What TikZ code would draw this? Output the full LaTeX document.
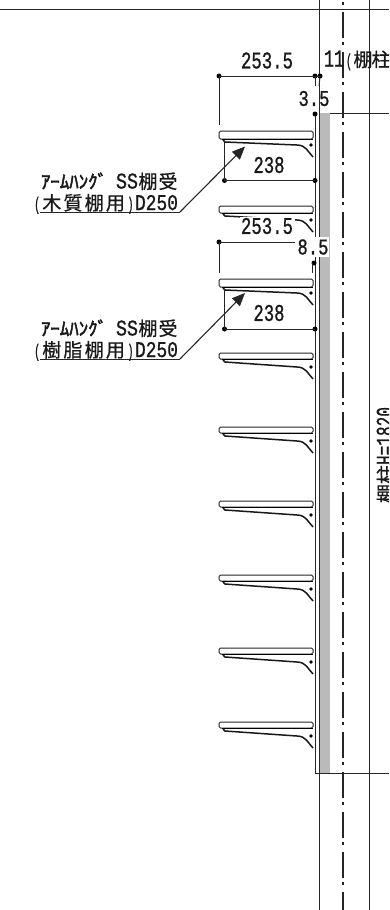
\documentclass[tikz,border=0pt]{standalone}
\usepackage{graphicx}
\usepackage{fontspec}
\setmainfont[FakeBold=0.6]{Noto Sans CJK JP}
\newfontfamily\monof[FakeBold=1.0]{Liberation Mono}
\newfontfamily\kanaf[FakeBold=2.5]{Noto Sans CJK JP}
\usetikzlibrary{arrows.meta}
\tikzset{
 x=1pt,y=-1pt,
 ln/.style={line width=1pt,black!85},
 thick ln/.style={line width=1.5pt,black!90},
 axis/.style={line width=1.1pt,black!85,dash pattern=on 26pt off 4pt on 3pt off 7pt},
 dot/.style={circle,fill=black,inner sep=0pt,minimum size=5pt},
 txt/.style={inner sep=0pt,outer sep=0pt,text=black!90},
 lead/.style={line width=1.1pt,black!85,-{Triangle[length=13pt,width=11pt]}},
 gray band/.style={fill=black!27,draw=none},
}
\newcommand{\numb}[3]{\resizebox{#1pt}{#2pt}{\monof #3}}
\newcommand{\kj}[1]{\makebox[21.2pt]{\fontsize{19}{19}\selectfont #1}}
\newcommand{\lineone}{\hbox{\resizebox{66pt}{16pt}{\kanaf ｱｰﾑﾊﾝｸﾞ}\hspace{9pt}\resizebox{22pt}{15pt}{\monof SS}\hspace{0pt}\makebox[20pt]{\fontsize{19}{19}\selectfont 棚}\makebox[20pt]{\fontsize{19}{19}\selectfont 受}}}
\newcommand{\linetwo}[2]{\hbox{\makebox[8pt]{\resizebox*{6pt}{17pt}{\monof (}}\kj{#1}\kj{#2}\kj{棚}\kj{用}\makebox[9pt]{\resizebox*{6pt}{17pt}{\monof )}}\resizebox{43pt}{15pt}{\monof D250}}}
% shelf: #1 top y, #2 shelf height
\newcommand{\shelfbr}[2]{%
 \draw[ln,rounded corners=1.5pt] (313,#1) -- (219,#1) -- (219,#1+#2) -- (313,#1+#2) -- cycle;
 \draw[line width=1.6pt,black] (222,#1+#2+.5) -- (313,#1+#2+.5);
 \draw[thick ln] (223,#1+#2+1) -- (225,#1+#2+3) -- (297,#1+14) .. controls (306,#1+14) and (308,#1+21) .. (313,#1+26);
 \fill[black] (311,#1+14) circle (1.8pt);
}
\begin{document}
\begin{tikzpicture}
\useasboundingbox (0,0) rectangle (389,910);
\clip (0,0) rectangle (389,910);
\fill[white] (0,0) rectangle (389,910);
% wall
\fill[gray band] (320,113) rectangle (330,773);
\coordinate (tl) at (0,9); \coordinate (tr) at (389,9);
\draw[ln] (tl) -- (tr);
\draw[ln] (319,0) -- (319,910);
\draw[ln] (369,0) -- (369,910);
\draw[axis] (343,-28) -- (343,910);
\draw[ln] (315,113) -- (315,773) -- (389,773);
\draw[ln] (330,113) -- (389,113);
% shelves
\shelfbr{131}{8}
\shelfbr{206}{7}
\shelfbr{279}{8}
\shelfbr{353}{6}
\shelfbr{427}{6}
\shelfbr{501}{6}
\shelfbr{575}{6}
\shelfbr{648}{6}
\shelfbr{722}{6}
% top dimension
\node[dot] (a1) at (219,76) {};
\node[dot] (a2) at (315,76) {};
\node[dot] (a3) at (320,76) {};
\coordinate (a1b) at (219,125);
\coordinate (a2b) at (315,86);
\coordinate (a3b) at (319,86);
\draw[ln] (a1.center) -- (a3.center);
\draw[ln] (a1.center) -- (a1b);
\draw[ln] (a2.center) -- (a2b);
\draw[ln] (a3.center) -- (a3b);
\node[txt] (t1) at (267,60.5) {\numb{52}{16}{253.5}};
\node[txt,anchor=west] (t2) at (324,60.5) {\hbox{\resizebox{20pt}{16pt}{\monof 11}\makebox[10pt]{\resizebox*{6pt}{17pt}{\monof (}}\makebox[18pt]{\fontsize{19}{19}\selectfont 棚}\makebox[18pt]{\fontsize{19}{19}\selectfont 柱}}};
\node[txt] (t3) at (314,98.5) {\numb{31}{15}{3.5}};
\node[dot] (a4) at (315,114) {};
% 238 first
\node[dot] (b1) at (224.5,180.5) {};
\node[dot] (b2) at (315,180.5) {};
\coordinate (b1t) at (224.5,141);
\draw[ln] (b1.center) -- (b2.center);
\draw[ln] (b1.center) -- (b1t);
\node[txt] (t4) at (269,165) {\numb{31}{16}{238}};
% second dimension with masking
\fill[white] (240,217) rectangle (295,235);
\node[txt] (t5) at (267,226) {\numb{52}{16}{253.5}};
\fill[white] (297,237) rectangle (329,257);
\node[txt] (t6) at (313,247) {\numb{31}{15}{8.5}};
\node[dot] (c1) at (219,242) {};
\coordinate (c1e) at (295,242);
\coordinate (c1b) at (219,273);
\draw[ln] (c1.center) -- (c1e);
\draw[ln] (c1.center) -- (c1b);
\node[dot] (c2) at (314,263) {};
\coordinate (c2b) at (312,273);
\draw[ln] (312,263) -- (c2b);
% 238 second
\node[dot] (d1) at (224.5,329) {};
\node[dot] (d2) at (315,329) {};
\coordinate (d1t) at (224.5,289);
\draw[ln] (d1.center) -- (d2.center);
\draw[ln] (d1.center) -- (d1t);
\node[txt] (t7) at (269,313) {\numb{31}{16}{238}};
% labels
\node[txt,anchor=base east] (l1) at (178,188.5) {\lineone};
\node[txt,anchor=base east] (l2) at (178,210) {\linetwo{木}{質}};
\node[txt,anchor=base east] (l3) at (178,335.5) {\lineone};
\node[txt,anchor=base east] (l4) at (178,357) {\linetwo{樹}{脂}};
\coordinate (u1a) at (40,212); \coordinate (u1b) at (180,212); \coordinate (tip1) at (245,146.5);
\coordinate (u2a) at (40,359); \coordinate (u2b) at (180,359); \coordinate (tip2) at (245,293);
\draw[ln] (u1a) -- (u1b);
\draw[ln] (u2a) -- (u2b);
\draw[lead] (u1b) -- (tip1);
\draw[lead] (u2b) -- (tip2);
% vertical
\node[txt,rotate=90] (v) at (385.5,455) {\hbox{\makebox[19pt]{\fontsize{19}{19}\selectfont 棚}\makebox[19pt]{\fontsize{19}{19}\selectfont 柱}\resizebox{58pt}{16pt}{\monof H=1820}}};
\end{tikzpicture}
\end{document}
